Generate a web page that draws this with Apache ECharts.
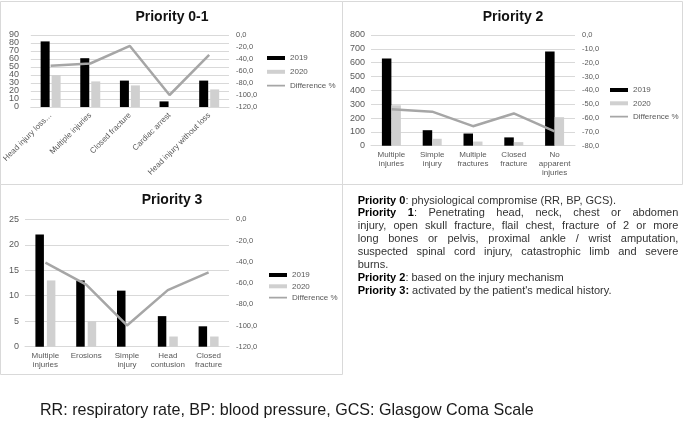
<!DOCTYPE html>
<html><head><meta charset="utf-8">
<script src="https://cdn.jsdelivr.net/npm/echarts@6/dist/echarts.min.js"></script>
<style>html,body{margin:0;padding:0;background:#fff}#c{width:685px;height:421px}</style>
</head><body><div id="c"></div>
<script>
// ---------- data ----------
const p01Categories = ['Head injury loss…', 'Multiple injuries', 'Closed fracture', 'Cardiac arrest', 'Head injury without loss'];
const p01Values2019 = [82, 61, 33, 7, 33];
const p01Values2020 = [40, 32, 27, 0, 22];
const p01Diff = [-51.2, -47.5, -18.2, -100, -33.3];
const p01LeftTicks = [0, 10, 20, 30, 40, 50, 60, 70, 80, 90];
const p01RightTicks = [-120, -100, -80, -60, -40, -20, 0];

const p2Categories = ['Multiple\ninjuries', 'Simple\ninjury', 'Multiple\nfractures', 'Closed\nfracture', 'No\napparent\ninjuries'];
const p2Values2019 = [630, 112, 88, 60, 680];
const p2Values2020 = [292, 50, 30, 26, 206];
const p2Diff = [-53.7, -55.4, -65.9, -56.7, -69.7];
const p2LeftTicks = [0, 100, 200, 300, 400, 500, 600, 700, 800];
const p2RightTicks = [-80, -70, -60, -50, -40, -30, -20, -10, 0];

const p3Categories = ['Multiple\ninjuries', 'Erosions', 'Simple\ninjury', 'Head\ncontusion', 'Closed\nfracture'];
const p3Values2019 = [22, 13, 11, 6, 4];
const p3Values2020 = [13, 5, 0, 2, 2];
const p3Diff = [-40.9, -61.5, -100, -66.7, -50];
const p3LeftTicks = [0, 5, 10, 15, 20, 25];
const p3RightTicks = [-120, -100, -80, -60, -40, -20, 0];

const seriesNames = ['2019', '2020', 'Difference %'];
const panelTitles = ['Priority 0-1', 'Priority 2', 'Priority 3'];

const noteLines = [
  {segs: [{s: 'Priority 0', b: 1}, {s: ': physiological compromise (RR, BP, GCS).', b: 0}], justify: false},
  {segs: [{s: 'Priority 1', b: 1}, {s: ': Penetrating head, neck, chest or abdomen', b: 0}], justify: true},
  {segs: [{s: 'injury, open skull fracture, flail chest, fracture of 2 or more', b: 0}], justify: true},
  {segs: [{s: 'long bones or pelvis, proximal ankle / wrist amputation,', b: 0}], justify: true},
  {segs: [{s: 'suspected spinal cord injury, catastrophic limb and severe', b: 0}], justify: true},
  {segs: [{s: 'burns.', b: 0}], justify: false},
  {segs: [{s: 'Priority 2', b: 1}, {s: ': based on the injury mechanism', b: 0}], justify: false},
  {segs: [{s: 'Priority 3:', b: 1}, {s: ' activated by the patient\'s medical history.', b: 0}], justify: false}
];
const captionText = 'RR: respiratory rate, BP: blood pressure, GCS: Glasgow Coma Scale';

// ---------- styling ----------
const FONT = '"Liberation Sans", Arial, sans-serif';
const AX = '#595959', GRIDC = '#d9d9d9', C19 = '#000000', C20 = '#d0d0d0', CL = '#a6a6a6';
const LINE_ICON = 'path://M0,0H20V0.01H0Z M0,1H20V3H0Z M0,3.99H20V4H0Z';

function leftAxis(gi, ticks, fs, showLabels) {
  return {type: 'value', gridIndex: gi, position: 'left', min: ticks[0], max: ticks[ticks.length - 1],
    interval: ticks[1] - ticks[0], splitLine: {show: true, lineStyle: {color: GRIDC, width: 1}},
    axisLine: {show: false}, axisTick: {show: false},
    axisLabel: {show: showLabels, color: AX, fontSize: fs, fontFamily: FONT, margin: 6,
      showMinLabel: true, showMaxLabel: true, hideOverlap: false}};
}
function rightAxis(gi, ticks) {
  return {type: 'value', gridIndex: gi, position: 'right', min: ticks[0], max: ticks[ticks.length - 1],
    interval: ticks[1] - ticks[0], splitLine: {show: false}, axisLine: {show: false}, axisTick: {show: false},
    axisLabel: {color: AX, fontSize: 7.5, lineHeight: 7, fontFamily: FONT, margin: 7, showMinLabel: true,
      showMaxLabel: true, hideOverlap: false,
      formatter: v => (Math.abs(v) < 1e-9 ? 0 : v).toFixed(1).replace('.', ',')}};
}
function catAxis(gi, cats, extra) {
  return Object.assign({type: 'category', gridIndex: gi, data: cats,
    axisLine: {show: true, lineStyle: {color: GRIDC}}, axisTick: {show: false},
    axisLabel: Object.assign({color: AX, fontSize: 8, lineHeight: 9, fontFamily: FONT, interval: 0, margin: 5}, extra || {})});
}
function barSeries(name, gi, data, color, bw, gap) {
  return {name, type: 'bar', xAxisIndex: gi, yAxisIndex: gi * 2, data, barWidth: bw, barGap: gap,
    itemStyle: {color}, emphasis: {disabled: true}, animation: false};
}
function lineSeries(gi, data) {
  return {name: seriesNames[2], type: 'line', xAxisIndex: gi, yAxisIndex: gi * 2 + 1, data, symbol: 'none',
    lineStyle: {color: CL, width: 2.5}, itemStyle: {color: CL}, z: 5, animation: false};
}
function legend(left, top, gap) {
  return {orient: 'vertical', left, top, padding: 0, itemWidth: 18, itemHeight: 4, itemGap: gap,
    textStyle: {fontSize: 8, lineHeight: 10, color: AX, fontFamily: FONT},
    data: [{name: seriesNames[0], icon: 'rect'}, {name: seriesNames[1], icon: 'rect'},
      {name: seriesNames[2], icon: LINE_ICON}]};
}

// ---------- notes (justified text) ----------
const mc = document.createElement('canvas').getContext('2d');
function tw(s, b) { mc.font = (b ? 'bold ' : '') + '11px "Liberation Sans"'; return mc.measureText(s).width; }
const richStyles = {
  b: {fontWeight: 'bold', fontSize: 11, fontFamily: FONT, fill: '#000', color: '#000'},
  r: {fontWeight: 'normal', fontSize: 11, fontFamily: FONT, fill: '#333', color: '#333'}
};
function segsToRich(segs) { return segs.map(g => '{' + (g.b ? 'b' : 'r') + '|' + g.s + '}').join(''); }
function tokenize(segs) {
  const toks = [[]];
  segs.forEach(sg => {
    sg.s.split(' ').forEach((p, i) => {
      if (i > 0) toks.push([]);
      if (p) toks[toks.length - 1].push({s: p, b: sg.b});
    });
  });
  return toks.filter(t => t.length);
}
const NOTE_X = 357.7, NOTE_R = 678.3, NOTE_Y0 = 200.6, NOTE_LH = 12.85;
const graphics = [];
noteLines.forEach((ln, i) => {
  const y = NOTE_Y0 + i * NOTE_LH;
  if (!ln.justify) {
    graphics.push({type: 'text', silent: true, style: {x: NOTE_X, y, text: segsToRich(ln.segs), rich: richStyles,
      align: 'left', verticalAlign: 'middle', fontSize: 11, fontFamily: FONT}});
  } else {
    const toks = tokenize(ln.segs);
    const widths = toks.map(t => t.reduce((a, g) => a + tw(g.s, g.b), 0));
    const total = widths.reduce((a, b) => a + b, 0);
    const gap = (NOTE_R - NOTE_X - total) / (toks.length - 1);
    let x = NOTE_X;
    toks.forEach((t, k) => {
      graphics.push({type: 'text', silent: true, style: {x, y, text: segsToRich(t), rich: richStyles,
        align: 'left', verticalAlign: 'middle', fontSize: 11, fontFamily: FONT}});
      x += widths[k] + gap;
    });
  }
});
// panel borders
[[0.5, 1.5, 342, 183], [342.5, 1.5, 340, 183], [0.5, 184.5, 342, 190]].forEach(r => {
  graphics.push({type: 'rect', silent: true, shape: {x: r[0], y: r[1], width: r[2], height: r[3]},
    style: {fill: 'none', stroke: '#d9d9d9', lineWidth: 1}, z: -1});
});
// titles
[[172, 17], [513, 17], [172, 200]].forEach((p, i) => {
  graphics.push({type: 'text', silent: true, style: {x: p[0], y: p[1], text: panelTitles[i], align: 'center',
    verticalAlign: 'middle', fontSize: 14, fontWeight: 'bold', fontFamily: FONT, fill: '#111'}});
});
// caption
graphics.push({type: 'text', silent: true, style: {x: 40, y: 411, text: captionText, align: 'left',
  verticalAlign: 'middle', fontSize: 16.1, fontFamily: FONT, fill: '#1a1a1a'}});

// ---------- chart ----------
const P01_GRID_LEFT = 25;
const chart = echarts.init(document.getElementById('c'), null, {renderer: 'canvas'});
chart.setOption({
  animation: false,
  textStyle: {fontFamily: FONT},
  grid: [
    {left: P01_GRID_LEFT, right: 456, top: 35, height: 72},
    {left: 371, right: 110, top: 35, height: 110.7},
    {left: 25, right: 456, top: 219.3, height: 127.4}
  ],
  xAxis: [
    catAxis(0, p01Categories, {rotate: 45, margin: 7}),
    catAxis(1, p2Categories),
    catAxis(2, p3Categories)
  ],
  yAxis: [
    leftAxis(0, p01LeftTicks, 9, false), rightAxis(0, p01RightTicks),
    leftAxis(1, p2LeftTicks, 9, true), rightAxis(1, p2RightTicks),
    leftAxis(2, p3LeftTicks, 9, true), rightAxis(2, p3RightTicks)
  ],
  legend: [legend(267, 53, 3.8), legend(610, 85, 3.3), legend(269, 270, 1.3)],
  series: [
    barSeries(seriesNames[0], 0, p01Values2019, C19, 9, '22%'),
    barSeries(seriesNames[1], 0, p01Values2020, C20, 9, '22%'),
    lineSeries(0, p01Diff),
    barSeries(seriesNames[0], 1, p2Values2019, C19, 9.5, '0%'),
    barSeries(seriesNames[1], 1, p2Values2020, C20, 9.5, '0%'),
    lineSeries(1, p2Diff),
    barSeries(seriesNames[0], 2, p3Values2019, C19, 8.5, '35%'),
    barSeries(seriesNames[1], 2, p3Values2020, C20, 8.5, '35%'),
    lineSeries(2, p3Diff)
  ],
  graphic: graphics
});
// Priority 0-1 left tick labels are tightly packed (the library would hide some as overlapping),
// so place them at the positions given by the library's own y scale.
const tickLabels = p01LeftTicks.map(v => ({type: 'text', silent: true, style: {
  x: P01_GRID_LEFT - 6, y: chart.convertToPixel({yAxisIndex: 0}, v), text: String(v),
  align: 'right', verticalAlign: 'middle', fontSize: 9, fontFamily: FONT, fill: AX}}));
chart.setOption({graphic: graphics.concat(tickLabels)});
</script></body></html>
